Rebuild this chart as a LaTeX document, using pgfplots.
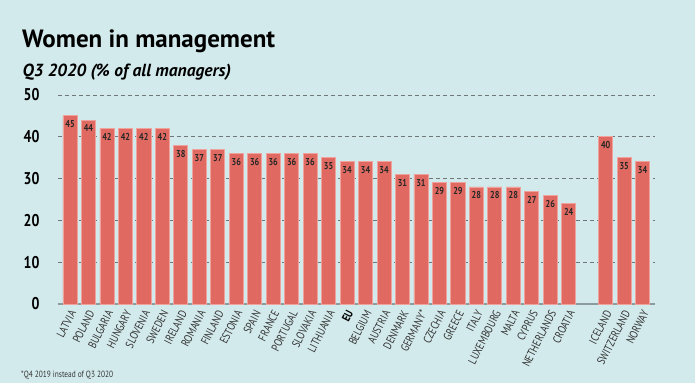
\documentclass[border=0pt]{standalone}
\usepackage{fontspec}
\setmainfont{PT Sans}
\newfontfamily\cond{PT Sans}[FakeStretch=0.82]
\usepackage{pgfplots}
\pgfplotsset{compat=1.18}
\definecolor{bg}{HTML}{D3EAEC}
\definecolor{barc}{HTML}{E06A61}
\definecolor{bard}{HTML}{EFA39C}
\definecolor{gridc}{HTML}{6F7778}
\definecolor{axc}{HTML}{8C9B9D}
\pgfplotstableread{
x y
0 45
1 44
2 42
3 42
4 42
5 42
6 38
7 37
8 37
9 36
10 36
11 36
12 36
13 36
14 35
15 34
16 34
17 34
18 31
19 31
20 29
21 29
22 28
23 28
24 28
25 27
26 26
27 24
29 40
30 35
31 34
}\datatable
\begin{document}
\begin{tikzpicture}
\useasboundingbox (0pt,0pt) rectangle (695pt,383pt);
\fill[bg] (0pt,0pt) rectangle (695pt,383pt);
\node[anchor=base west,inner sep=0pt] at (22pt,335pt) {\fontsize{25}{25}\selectfont\bfseries Women in management};
\node[anchor=base west,inner sep=0pt] at (22.5pt,306pt) {\fontsize{17.5}{17.5}\selectfont\bfseries\itshape Q3 2020 (\% of all managers)};
\node[anchor=base west,inner sep=0pt,text=black!80] at (21pt,5.5pt) {\cond\fontsize{9}{9}\selectfont *Q4 2019 instead of Q3 2020};
\begin{axis}[
  at={(58pt,79pt)}, anchor=south west,
  scale only axis, width=597pt, height=209pt,
  xmin=-0.65, xmax=31.67, ymin=0, ymax=50,
  axis line style={draw=none},
  ybar, bar width=0.76, bar shift=0pt,
  ytick={10,20,30,40,50},
  extra y ticks={0},
  extra y tick style={grid style={solid,axc,line width=1.2pt}},
  ymajorgrids,
  grid style={gridc,line width=0.6pt,dash pattern=on 4pt off 3pt},
  major tick length=0pt,
  /pgf/number format/assume math mode=true,
  yticklabel style={font=\cond\fontsize{17}{17}\selectfont\bfseries, text=black, anchor=east, xshift=-15pt},
  xtick={0,...,27,29,30,31},
  xticklabels={LATVIA,POLAND,BULGARIA,HUNGARY,SLOVENIA,SWEDEN,IRELAND,ROMANIA,FINLAND,ESTONIA,SPAIN,FRANCE,PORTUGAL,SLOVAKIA,LITHUANIA,{\bfseries\color{black}EU},BELGIUM,AUSTRIA,DENMARK,GERMANY*,CZECHIA,GREECE,ITALY,LUXEMBOURG,MALTA,CYPRUS,NETHERLANDS,CROATIA,ICELAND,SWITZERLAND,NORWAY},
  xticklabel style={font=\cond\fontsize{11.5}{11.5}\selectfont, text=black!80, anchor=east, inner sep=0pt, xshift=3pt, yshift=-7pt, rotate=63},
  nodes near coords,
  nodes near coords style={font=\cond\fontsize{10}{10}\selectfont\bfseries, text=black!85, anchor=north, yshift=-1pt, /pgf/number format/assume math mode=true},
]
\addplot[fill=barc, draw=bard, line width=0.8pt] table[x=x,y=y] {\datatable};
\end{axis}
\end{tikzpicture}
\end{document}
